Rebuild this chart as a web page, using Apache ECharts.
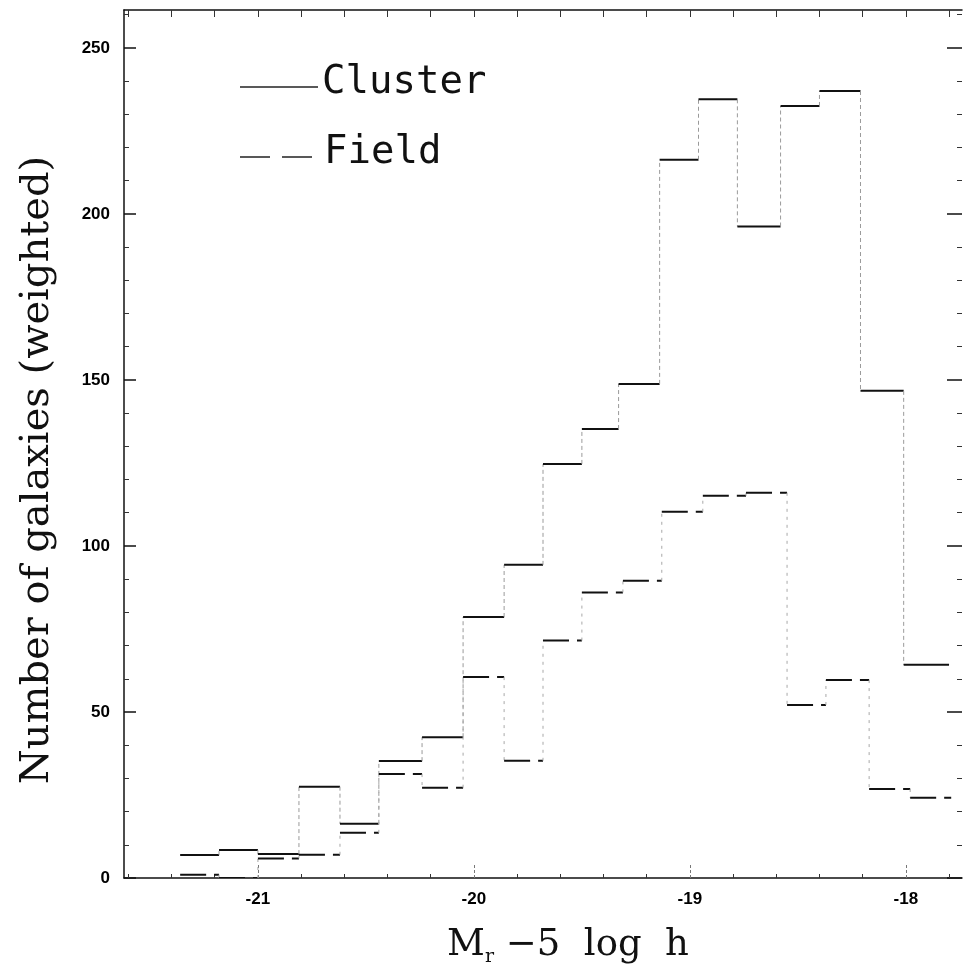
<!DOCTYPE html>
<html>
<head>
<meta charset="utf-8">
<script src="https://cdn.jsdelivr.net/npm/echarts@6/dist/echarts.min.js"></script>
<style>
html,body{margin:0;padding:0;background:#fff;}
#chart{width:964px;height:969px;}
</style>
</head>
<body>
<div id="chart"></div>
<script>
// Bin edges (magnitude) and weighted counts
const clusterEdges = [-21.36, -21.18, -21.00, -20.81, -20.62, -20.44, -20.24, -20.05, -19.86, -19.68, -19.50, -19.33, -19.14, -18.96, -18.78, -18.58, -18.40, -18.21, -18.01, -17.80];
const clusterCounts = [6.9, 8.4, 7.2, 27.5, 16.3, 35.2, 42.4, 78.6, 94.3, 124.7, 135.2, 148.8, 216.3, 234.5, 196.2, 232.5, 237.0, 146.7, 64.2];
const fieldEdges = [-21.36, -21.18, -21.00, -20.81, -20.62, -20.44, -20.24, -20.05, -19.86, -19.68, -19.50, -19.31, -19.13, -18.94, -18.74, -18.55, -18.37, -18.17, -17.98, -17.79];
const fieldCounts = [1.0, 0.0, 5.9, 7.0, 13.6, 31.3, 27.2, 60.5, 35.3, 71.5, 86.0, 89.5, 110.3, 115.1, 116.0, 52.1, 59.6, 26.8, 24.2];

const xMajorTicks = [-21, -20, -19, -18];
const xMinorTicks = [-21.6, -21.4, -21.2, -20.8, -20.6, -20.4, -20.2, -19.8, -19.6, -19.4, -19.2, -18.8, -18.6, -18.4, -18.2, -17.8];
const yMajorTicks = [0, 50, 100, 150, 200, 250];
const yMinorTicks = [10, 20, 30, 40, 60, 70, 80, 90, 110, 120, 130, 140, 160, 170, 180, 190, 210, 220, 230, 240, 260];

const xMin = -21.62, xMax = -17.74, yMin = 0, yMax = 261.4;

function toSteps(edges, counts) {
  const out = [];
  for (let i = 0; i < counts.length; i++) {
    out.push([edges[i], edges[i + 1], counts[i], i === 0 ? 0 : counts[i - 1]]);
  }
  return out;
}

function stepRenderer(dash, vDash, vColor) {
  return function (params, api) {
    const x0 = api.value(0), x1 = api.value(1), v = api.value(2), pv = api.value(3);
    const a = api.coord([x0, v]), b = api.coord([x1, v]), c = api.coord([x0, pv]);
    const children = [];
    if (params.dataIndex > 0) {
      children.push({type: 'line', shape: {x1: c[0], y1: c[1], x2: a[0], y2: a[1]},
        style: {stroke: vColor, lineWidth: 1, lineDash: vDash}});
    }
    children.push({type: 'line', shape: {x1: a[0], y1: a[1], x2: b[0], y2: b[1]},
      style: {stroke: '#111', lineWidth: 2, lineDash: dash}});
    return {type: 'group', children: children};
  };
}

const chart = echarts.init(document.getElementById('chart'), null, {renderer: 'canvas'});

const baseX = {type: 'value', min: xMin, max: xMax, splitLine: {show: false}};
const baseY = {type: 'value', min: yMin, max: yMax, splitLine: {show: false}};

chart.setOption({
  backgroundColor: '#fff',
  animation: false,
  grid: {left: 124, right: 2, top: 10, bottom: 91, containLabel: false, outerBoundsMode: 'none'},
  xAxis: [
    Object.assign({}, baseX, {
      position: 'bottom',
      axisLine: {show: true, onZero: false, lineStyle: {color: '#111', width: 1.5}},
      axisTick: {show: true, inside: true, length: 14, customValues: xMajorTicks, lineStyle: {color: '#777', width: 1, type: [3, 2]}},
      axisLabel: {show: true, customValues: xMajorTicks, margin: 13, color: '#000',
        fontFamily: 'Liberation Sans, Arial, sans-serif', fontWeight: 'bold', fontSize: 17}
    }),
    Object.assign({}, baseX, {
      position: 'bottom',
      axisLine: {show: false},
      axisTick: {show: true, inside: true, length: 4, customValues: xMinorTicks, lineStyle: {color: '#333'}},
      axisLabel: {show: false}
    }),
    Object.assign({}, baseX, {
      position: 'top',
      axisLine: {show: true, onZero: false, lineStyle: {color: '#111', width: 1.5}},
      axisTick: {show: true, inside: true, length: 7, customValues: xMinorTicks.concat(xMajorTicks), lineStyle: {color: '#333'}},
      axisLabel: {show: false}
    })
  ],
  yAxis: [
    Object.assign({}, baseY, {
      position: 'left',
      axisLine: {show: true, onZero: false, lineStyle: {color: '#111', width: 1.5}},
      axisTick: {show: true, inside: true, length: 12, customValues: yMajorTicks, lineStyle: {color: '#111', width: 1.5}},
      axisLabel: {show: true, customValues: yMajorTicks, margin: 14, color: '#000',
        fontFamily: 'Liberation Sans, Arial, sans-serif', fontWeight: 'bold', fontSize: 17}
    }),
    Object.assign({}, baseY, {
      position: 'left',
      axisLine: {show: false},
      axisTick: {show: true, inside: true, length: 5, customValues: yMinorTicks, lineStyle: {color: '#333'}},
      axisLabel: {show: false}
    }),
    Object.assign({}, baseY, {
      position: 'right',
      axisLine: {show: false},
      axisTick: {show: true, inside: true, length: 15, customValues: yMajorTicks, lineStyle: {color: '#111', width: 1.5}},
      axisLabel: {show: false}
    }),
    Object.assign({}, baseY, {
      position: 'right',
      axisLine: {show: false},
      axisTick: {show: true, inside: true, length: 5, customValues: yMinorTicks, lineStyle: {color: '#333'}},
      axisLabel: {show: false}
    })
  ],
  series: [
    {
      name: 'Cluster', type: 'custom', xAxisIndex: 0, yAxisIndex: 0,
      encode: {x: [0, 1], y: [2, 3]},
      renderItem: stepRenderer(null, [4, 3], '#9a9a9a'),
      data: toSteps(clusterEdges, clusterCounts), clip: true
    },
    {
      name: 'Field', type: 'custom', xAxisIndex: 0, yAxisIndex: 0,
      encode: {x: [0, 1], y: [2, 3]},
      renderItem: stepRenderer([26, 8], [3, 5], '#a8a8a8'),
      data: toSteps(fieldEdges, fieldCounts), clip: true
    }
  ],
  graphic: [
    {type: 'text', x: 38, y: 470, rotation: Math.PI / 2,
      style: {text: 'Number of galaxies (weighted)', fill: '#111', font: '40px "DejaVu Serif", serif',
        textAlign: 'center', textVerticalAlign: 'middle'}},
    {type: 'text', x: 447, y: 945,
      style: {text: '{m|M}{s|r}{m| −5  log  h}', fill: '#111', textVerticalAlign: 'middle',
        rich: {
          m: {fontFamily: 'DejaVu Serif, serif', fontSize: 37, fill: '#111'},
          s: {fontFamily: 'DejaVu Serif, serif', fontSize: 19, fill: '#111', padding: [24, 0, 0, 0]}
        }}},
    {type: 'line', shape: {x1: 240, y1: 87, x2: 318, y2: 87}, style: {stroke: '#222', lineWidth: 1.5}},
    {type: 'text', x: 322, y: 83, style: {text: 'Cluster', fill: '#111', font: '39px "DejaVu Sans Mono", monospace', textVerticalAlign: 'middle'}},
    {type: 'line', shape: {x1: 240, y1: 157, x2: 318, y2: 157}, style: {stroke: '#222', lineWidth: 1.5, lineDash: [30, 12]}},
    {type: 'text', x: 324, y: 153, style: {text: 'Field', fill: '#111', font: '39px "DejaVu Sans Mono", monospace', textVerticalAlign: 'middle'}}
  ]
});
</script>
</body>
</html>
